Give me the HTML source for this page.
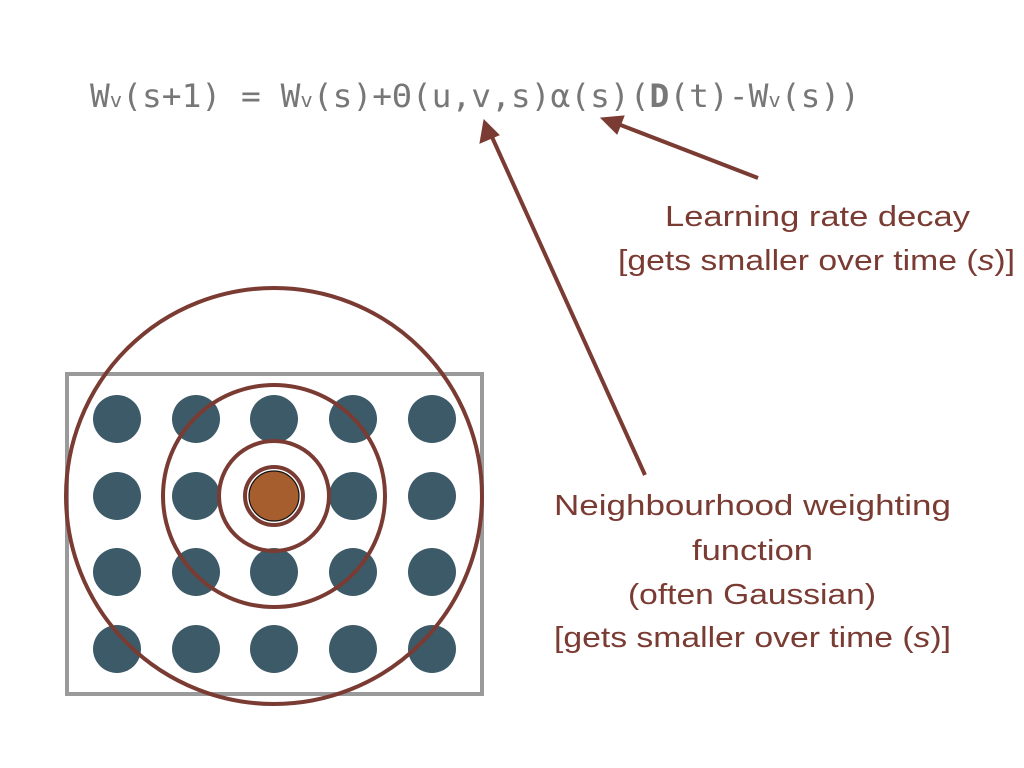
<!DOCTYPE html>
<html><head><meta charset="utf-8"><style>
html,body{margin:0;padding:0;background:#fff;}
svg{display:block;}
text{font-family:"Liberation Sans",sans-serif;fill:#7a3b33;}
.mono{font-family:"DejaVu Sans Mono","Liberation Mono",monospace;fill:#777;}
</style></head><body>
<svg width="1024" height="768" viewBox="0 0 1024 768">
<text class="mono" x="90" y="107" font-size="32" textLength="770" lengthAdjust="spacingAndGlyphs">W<tspan font-size="20">v</tspan>(s+1) = W<tspan font-size="20">v</tspan>(s)+Θ(u,v,s)α(s)(<tspan font-weight="bold">D</tspan>(t)-W<tspan font-size="20">v</tspan>(s))</text>

<rect x="67" y="374" width="415" height="320" fill="none" stroke="#9a9a9a" stroke-width="4"/>
<g id="nodes"></g>
<g fill="none" stroke="#7a3b33" stroke-width="4">
<circle cx="274" cy="496" r="208"/>
<circle cx="274" cy="496" r="111"/>
<circle cx="274" cy="496" r="55"/>
<circle cx="274" cy="496" r="29"/>
</g>
<circle cx="274" cy="496" r="25" fill="#a65e2e" stroke="#111" stroke-width="1.2"/>

<g stroke="#7a3b33" stroke-width="4" fill="#7a3b33">
<line x1="645" y1="475" x2="492" y2="137"/>
<polygon points="484,120 480,143 499,135" stroke-width="1"/>
<line x1="758" y1="178" x2="618" y2="124"/>
<polygon points="601,118 617,134 624,116" stroke-width="1"/>
</g>

<g font-size="29" text-anchor="start">
<text x="665" y="226" textLength="305" lengthAdjust="spacingAndGlyphs">Learning rate decay</text>
<text x="618" y="270" textLength="397" lengthAdjust="spacingAndGlyphs">[gets smaller over time (<tspan font-style="italic">s</tspan>)]</text>
<text x="554" y="515" textLength="397" lengthAdjust="spacingAndGlyphs">Neighbourhood weighting</text>
<text x="692" y="560" textLength="121" lengthAdjust="spacingAndGlyphs">function</text>
<text x="628" y="604" textLength="248" lengthAdjust="spacingAndGlyphs">(often Gaussian)</text>
<text x="554" y="647" textLength="397" lengthAdjust="spacingAndGlyphs">[gets smaller over time (<tspan font-style="italic">s</tspan>)]</text>
</g>
</svg>
<script>
const cols=[117,196,274,353,432];
const rows=[419,496,572,649];
const g=document.getElementById('nodes');
rows.forEach((y,ri)=>cols.forEach((x,ci)=>{
  if(ri===1&&ci===2)return;
  const c=document.createElementNS('http://www.w3.org/2000/svg','circle');
  c.setAttribute('cx',x);c.setAttribute('cy',y);c.setAttribute('r',24);
  c.setAttribute('fill','#3d5a68');
  
  
  g.appendChild(c);
}));
</script>
</body></html>
